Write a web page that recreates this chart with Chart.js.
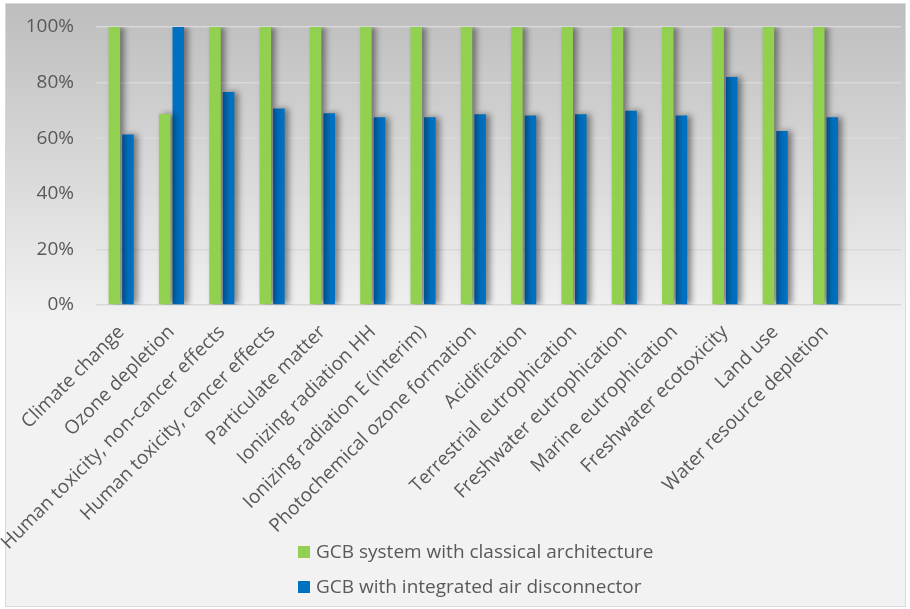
<!DOCTYPE html>
<html>
<head>
<meta charset="utf-8">
<script src="https://cdn.jsdelivr.net/npm/chart.js@4.4.1/dist/chart.umd.min.js"></script>
<style>
  body { margin: 0; background: #fff; }
  #frame {
    position: absolute; left: 5px; top: 3px; width: 899px; height: 602px;
    border: 1px solid #d9d9d9;
    background: linear-gradient(to bottom, #bdbdbd 0%, #f2f2f2 53%, #f2f2f2 100%);
  }
  #chart { position: absolute; left: 0; top: 0; }
  .legend { position: absolute; left: 298px; font-family: "Open Sans", sans-serif; font-size: 19px; color: #595959; }
  .legend div { height: 35px; line-height: 22px; }
  .legend span { display: inline-block; width: 12px; height: 12px; margin-right: 6px; vertical-align: 0px; }
</style>
</head>
<body>
<div id="frame"></div>
<canvas id="chart" width="910" height="609"></canvas>
<div class="legend" id="legend" style="top:540px"></div>
<script>
const categories = [
  'Climate change', 'Ozone depletion', 'Human toxicity, non-cancer effects',
  'Human toxicity, cancer effects', 'Particulate matter', 'Ionizing radiation HH',
  'Ionizing radiation E (interim)', 'Photochemical ozone formation', 'Acidification',
  'Terrestrial eutrophication', 'Freshwater eutrophication', 'Marine eutrophication',
  'Freshwater ecotoxicity', 'Land use', 'Water resource depletion'
]
const classical = [100, 68.7, 100, 100, 100, 100, 100, 100, 100, 100, 100, 100, 100, 100, 100]
const disconnector = [61.3, 100, 76.6, 70.7, 69.0, 67.5, 67.5, 68.6, 68.2, 68.6, 69.9, 68.2, 82.0, 62.6, 67.5]
const yTicks = [0, 20, 40, 60, 80, 100]
const seriesNames = ['GCB system with classical architecture', 'GCB with integrated air disconnector']
const seriesColors = ['#92d050', '#0070c0']

// excel left an empty slot at the end of the axis
const labels = categories.concat([''])

const barShadow = {
  id: 'barShadow',
  beforeDatasetsDraw(chart) {
    const c = chart.ctx
    c.save()
    c.shadowColor = 'rgba(0,0,0,0.45)'
    c.shadowBlur = 6
    c.shadowOffsetX = 4
  },
  afterDatasetsDraw(chart) {
    chart.ctx.restore()
  }
}

const data = {
  labels,
  datasets: [{
    label: seriesNames[0],
    data: classical,
    backgroundColor: seriesColors[0],
    categoryPercentage: 0.54,
    barPercentage: 0.85
  }, {
    label: seriesNames[1],
    data: disconnector,
    backgroundColor: seriesColors[1],
    categoryPercentage: 0.54,
    barPercentage: 0.85
  }]
}

const config = {
  type: 'bar',
  data,
  options: {
    responsive: false,
    animation: false,
    layout: { padding: { left: 0, right: 9, top: 27, bottom: 0 } },
    plugins: {
      legend: { display: false },
      tooltip: { enabled: false }
    },
    scales: {
      x: {
        grid: { display: false },
        border: { display: false },
        ticks: {
          autoSkip: false,
          minRotation: 45,
          maxRotation: 45,
          padding: 8,
          color: '#595959',
          font: { family: 'Open Sans', size: 19 }
        },
        afterFit: s => { s.height = 304 }
      },
      y: {
        min: 0,
        max: 100,
        afterBuildTicks: s => { s.ticks = yTicks.map(v => ({ value: v })) },
        afterFit: s => { s.width = 96; s.paddingTop = 0; s.paddingBottom = 0 },
        border: { display: false },
        grid: { color: '#d9d9d9', lineWidth: 1.5, drawTicks: false },
        ticks: {
          padding: 22,
          color: '#595959',
          font: { family: 'Open Sans', size: 19 },
          callback: v => v + '%'
        }
      }
    }
  },
  plugins: [barShadow]
}

const myChart = new Chart(document.getElementById('chart'), config)

let legendBox = document.getElementById('legend')
legendBox.innerHTML = seriesNames.map((n, i) =>
  '<div><span style="background:' + seriesColors[i] + '"></span>' + n + '</div>').join('')
</script>
</body>
</html>
